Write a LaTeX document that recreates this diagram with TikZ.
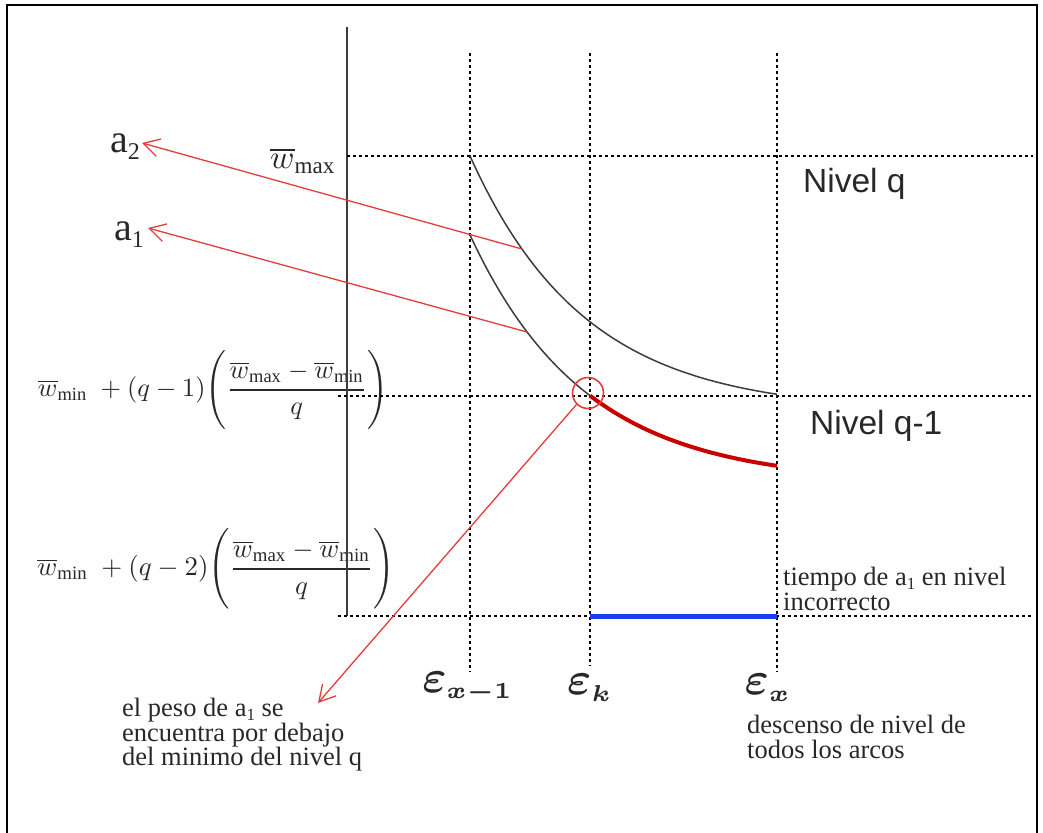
\documentclass[tikz,border=0pt]{standalone}
\usepackage{fontspec}
\setmainfont{Liberation Serif}
\newfontfamily\arialf{Liberation Sans}
\usepackage{amsmath}
\usepackage{graphicx}
\usetikzlibrary{arrows.meta}
\definecolor{arrred}{RGB}{228,60,60}
\definecolor{curvered}{RGB}{200,0,0}
\definecolor{bluebar}{RGB}{30,60,240}
\definecolor{curvegray}{RGB}{60,60,60}
\definecolor{txtgray}{RGB}{40,40,40}
\newcommand{\alab}[1]{{\fontsize{40}{40}\selectfont a}\raisebox{-7pt}{\fontsize{24}{24}\selectfont #1}}
\newcommand{\asub}[1]{a\smash{\raisebox{-4pt}{\fontsize{17}{17}\selectfont #1}}}
\begin{document}
\begin{tikzpicture}[x=1pt,y=-1pt,
  dotline/.style={line width=1.4pt, dash pattern=on 3pt off 3pt},
  redarrow/.style={draw=arrred, line width=1.3pt, -{Straight Barb[length=16pt,width=18pt,line width=1.3pt]}},
  serifnote/.style={font=\fontsize{26.5}{24.5}\selectfont, text=txtgray, align=left, inner sep=0pt, anchor=north west},
  nivel/.style={font=\arialf\fontsize{33.5}{36}\selectfont, text=txtgray, inner sep=0pt, anchor=base west},
  mathlabel/.style={inner sep=0pt, text=txtgray},
  ]
\useasboundingbox (0,0) rectangle (1043,832);
% frame
\draw[line width=2.5pt] (7,840) -- (7,5) -- (1037,5) -- (1037,840);

% formulas
\node[mathlabel] (f1) at (213,390) {\resizebox{350pt}{!}{$\displaystyle \overline{w}_{\min}\;+(q-1)\Biggl(\frac{\overline{w}_{\max}-\overline{w}_{\min}}{q}\Biggr)$}};
\node[mathlabel] (f2) at (216,569) {\resizebox{357pt}{!}{$\displaystyle \overline{w}_{\min}\;+(q-2)\Biggl(\frac{\overline{w}_{\max}-\overline{w}_{\min}}{q}\Biggr)$}};
\node[mathlabel] (wmax) at (303,161) {\scalebox{3.3}{$\overline{w}_{\max}$}};

% axis
\draw[line width=1.5pt, curvegray] (347,27) -- (347,616);

% dotted grid
\draw[dotline] (470,53) -- (470,672);
\draw[dotline] (590,53) -- (590,666);
\draw[dotline] (777,53) -- (777,672);
\draw[dotline] (347,156) -- (1033,156);
\draw[dotline] (338,396) -- (1033,396);
\draw[dotline] (338,616) -- (1033,616);

% curves
\draw[curvegray, line width=1.5pt] plot[domain=470:777, samples=80] (\x, {156+256*(1-exp(-(\x-470)/115))});
\draw[curvegray, line width=1.5pt] plot[domain=470:590, samples=40] (\x, {235+248*(1-exp(-(\x-470)/115))});
\draw[curvered, line width=4pt] plot[domain=590:777, samples=60] (\x, {235+248*(1-exp(-(\x-470)/115))});

% blue bar
\draw[bluebar, line width=5pt] (590,616) -- (777,616);

% circle
\node[draw=arrred, circle, line width=1.6pt, minimum size=31pt, inner sep=0pt] (circ) at (588,393) {};

% labels
\node[inner sep=0pt, text=txtgray] (a2) at (125,147) {\alab{2}};
\node[inner sep=0pt, text=txtgray] (a1) at (129,235) {\alab{1}};
\coordinate (a2tip) at (142,143);
\coordinate (a1tip) at (148,228);
\coordinate (up) at (522,249);
\coordinate (lo) at (527,332);
\coordinate (notetip) at (318,703);

\node[nivel] (nq) at (803,192) {Nivel q};
\node[nivel] (nq1) at (810,434) {Nivel q-1};

\node[mathlabel] (e1) at (468,688) {\scalebox{4.6}{$\boldsymbol{\varepsilon}_{\scriptscriptstyle \boldsymbol{x-1}}$}};
\node[mathlabel] (ek) at (590,688) {\scalebox{4.6}{$\boldsymbol{\varepsilon}_{\scriptscriptstyle \boldsymbol{k}}$}};
\node[mathlabel] (ex) at (768,688) {\scalebox{4.6}{$\boldsymbol{\varepsilon}_{\scriptscriptstyle \boldsymbol{x}}$}};

\node[serifnote] (tiempo) at (783,567) {tiempo de \asub{1} en nivel\\incorrecto};
\node[serifnote] (desc) at (747,715) {descenso de nivel de\\todos los arcos};
\node[serifnote] (peso) at (122,698) {el peso de \asub{1} se\\encuentra por debajo\\del minimo del nivel q};

% arrows
\draw[redarrow] (up) -- (a2tip);
\draw[redarrow] (lo) -- (a1tip);
\draw[redarrow] (circ.south west) -- (notetip);
\end{tikzpicture}
\end{document}
